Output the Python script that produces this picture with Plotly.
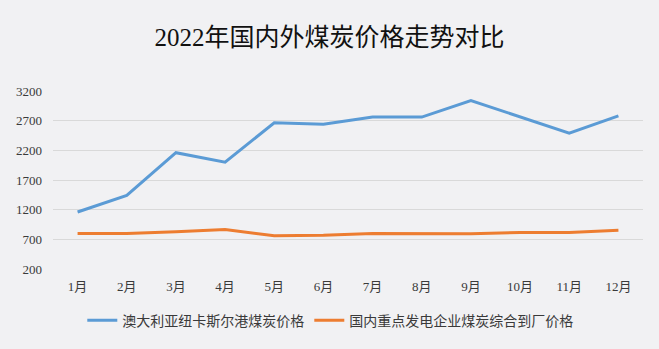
import plotly.graph_objects as go

months = ["1月", "2月", "3月", "4月", "5月", "6月", "7月", "8月", "9月", "10月", "11月", "12月"]
aus_newcastle = [1160, 1440, 2160, 2000, 2665, 2640, 2760, 2760, 3040, 2770, 2490, 2780]
domestic_plant = [800, 800, 826, 864, 762, 770, 800, 792, 792, 815, 815, 855]
y_ticks = [200, 700, 1200, 1700, 2200, 2700, 3200]

FONT = "Liberation Serif, Noto Sans CJK SC, serif"

fig = go.Figure()
fig.add_trace(go.Scatter(
    x=months, y=aus_newcastle, mode="lines",
    name="澳大利亚纽卡斯尔港煤炭价格",
    line=dict(color="#5B9BD5", width=3),
))
fig.add_trace(go.Scatter(
    x=months, y=domestic_plant, mode="lines",
    name="国内重点发电企业煤炭综合到厂价格",
    line=dict(color="#ED7D31", width=3),
))

fig.update_layout(
    width=659, height=349,
    margin=dict(l=53, r=16, t=91, b=76),
    paper_bgcolor="#f1f1f3",
    plot_bgcolor="#f1f1f3",
    font=dict(family=FONT, size=13, color="#3a3a3a"),
    title=dict(
        text="2022年国内外煤炭价格走势对比",
        x=0.5, xanchor="center", y=0.894, yanchor="middle",
        font=dict(family=FONT, size=25, color="#111111"),
    ),
    showlegend=True,
    legend=dict(
        orientation="h", x=0.47, xanchor="center", y=-0.29, yanchor="middle",
        font=dict(family=FONT, size=14, color="#3a3a3a"),
        bgcolor="rgba(0,0,0,0)", itemwidth=30,
    ),
)
fig.update_xaxes(
    type="category", range=[-0.5, 11.5], showgrid=False, zeroline=False,
    showline=False, ticks="", ticklabelstandoff=8,
    tickfont=dict(family=FONT, size=13, color="#3a3a3a"),
)
fig.update_yaxes(
    range=[200, 3200], tickvals=y_ticks, showgrid=True, gridcolor="#d9d9d9",
    gridwidth=1, zeroline=False, showline=False, ticks="", ticklabelstandoff=10,
    tickfont=dict(family=FONT, size=13, color="#3a3a3a"),
)

fig.write_html("out.html")
